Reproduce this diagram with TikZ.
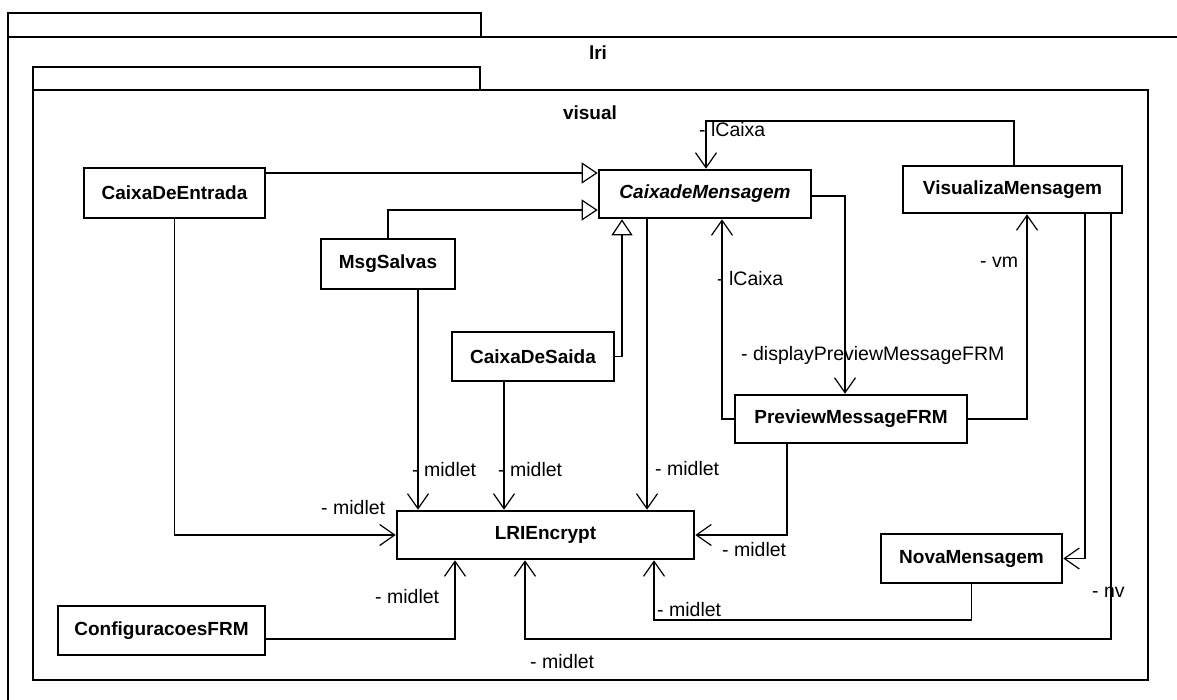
\documentclass[tikz,border=0pt]{standalone}
\usepackage{fontspec}
\setmainfont{Liberation Sans}
\usetikzlibrary{arrows.meta}
\begin{document}
\begin{tikzpicture}[x=1pt,y=-1pt,
  pkg/.style={draw,line width=2.6pt},
  pkgname/.style={inner sep=0pt,font=\fontsize{19}{22}\selectfont\bfseries},
  cls/.style={draw,line width=2.6pt,rectangle,inner sep=0pt,fill=white,
    font=\fontsize{19}{22}\selectfont\bfseries},
  conn/.style={line width=1.2pt},
  assoc/.style={conn,-{Straight Barb[length=15pt,width=21pt,line width=1.2pt]}},
  gen/.style={conn,-{Triangle[open,length=16pt,width=21pt,fill=white,line width=1.2pt]}},
  role/.style={inner sep=0pt,anchor=west,font=\fontsize{19.5}{22}\selectfont}]
\useasboundingbox (0,0) rectangle (1177,699);
\clip (0,0) rectangle (1177,699);

% package lri
\draw[pkg] (8,13) rectangle (481,37);
\draw[pkg] (8,37) rectangle (1188,730);
\node[pkgname] (lri) at (598,53) {lri};

% package visual
\draw[pkg] (33,67) rectangle (480,90);
\draw[pkg] (33,90) rectangle (1148,680);
\node[pkgname] (visual) at (590,113) {visual};

% classes
\node[cls,minimum width=181pt,minimum height=50pt] (CE) at (174.5,193) {CaixaDeEntrada};
\node[cls,minimum width=212pt,minimum height=48pt,font=\fontsize{19}{22}\selectfont\bfseries\itshape] (CM) at (705,194) {CaixadeMensagem};
\node[cls,minimum width=219pt,minimum height=47pt] (VM) at (1012.5,189.5) {VisualizaMensagem};
\node[cls,minimum width=134pt,minimum height=50pt] (MS) at (388,264) {MsgSalvas};
\node[cls,minimum width=162pt,minimum height=49pt] (CS) at (533,356.5) {CaixaDeSaida};
\node[cls,minimum width=232pt,minimum height=48pt] (PM) at (851,419) {PreviewMessageFRM};
\node[cls,minimum width=297pt,minimum height=48pt] (LE) at (545.5,535) {LRIEncrypt};
\node[cls,minimum width=181pt,minimum height=49pt] (NM) at (971.5,558.5) {NovaMensagem};
\node[cls,minimum width=207pt,minimum height=49pt] (CF) at (161.5,630.5) {ConfiguracoesFRM};

% generalizations
\draw[gen] (CE.east |- 0,173) -- (CM.west |- 0,173);
\draw[gen] (MS.north) |- (CM.west |- 0,210);
\draw[gen] (CS.east) -| (CM.south -| 622,0);

% associations
\draw[assoc] (CM.south -| 647,0) -- (LE.north -| 647,0);
\node[role] at (655,469) {- midlet};

\draw[assoc] (CM.east |- 0,196) -| (PM.north -| 845,0);
\node[role] at (741,355) {- displayPreviewMessageFRM};

\draw[assoc] (PM.west) -| (CM.south -| 722,0);
\node[role] at (717,279) {- lCaixa};

\draw[assoc] (VM.north -| 1014,0) -- (1014,121) -| (CM.north -| 706,0);
\node[role] at (699,130) {- lCaixa};

\draw[assoc] (PM.east) -| (VM.south -| 1027,0);
\node[role] at (980,262) {- vm};

\draw[assoc] (VM.south -| 1085,0) |- (NM.east);
\node[role] at (1092,592) {- nv};

\draw[assoc] (VM.south -| 1111,0) -- (1111,639) -| (LE.south -| 525,0);
\node[role] at (530,662) {- midlet};

\draw[assoc] (NM.south) -- (971.5,620) -| (LE.south -| 654,0);
\node[role] at (657,610) {- midlet};

\draw[assoc] (CF.east |- 0,639) -| (LE.south -| 455,0);
\node[role] at (375,597) {- midlet};

\draw[assoc] (CE.south) |- (LE.west);
\node[role] at (321,508) {- midlet};

\draw[assoc] (MS.south -| 418,0) -- (LE.north -| 418,0);
\node[role] at (412,470) {- midlet};

\draw[assoc] (CS.south -| 504,0) -- (LE.north -| 504,0);
\node[role] at (498,470) {- midlet};

\draw[assoc] (PM.south -| 787,0) |- (LE.east);
\node[role] at (722,550) {- midlet};
\end{tikzpicture}
\end{document}
